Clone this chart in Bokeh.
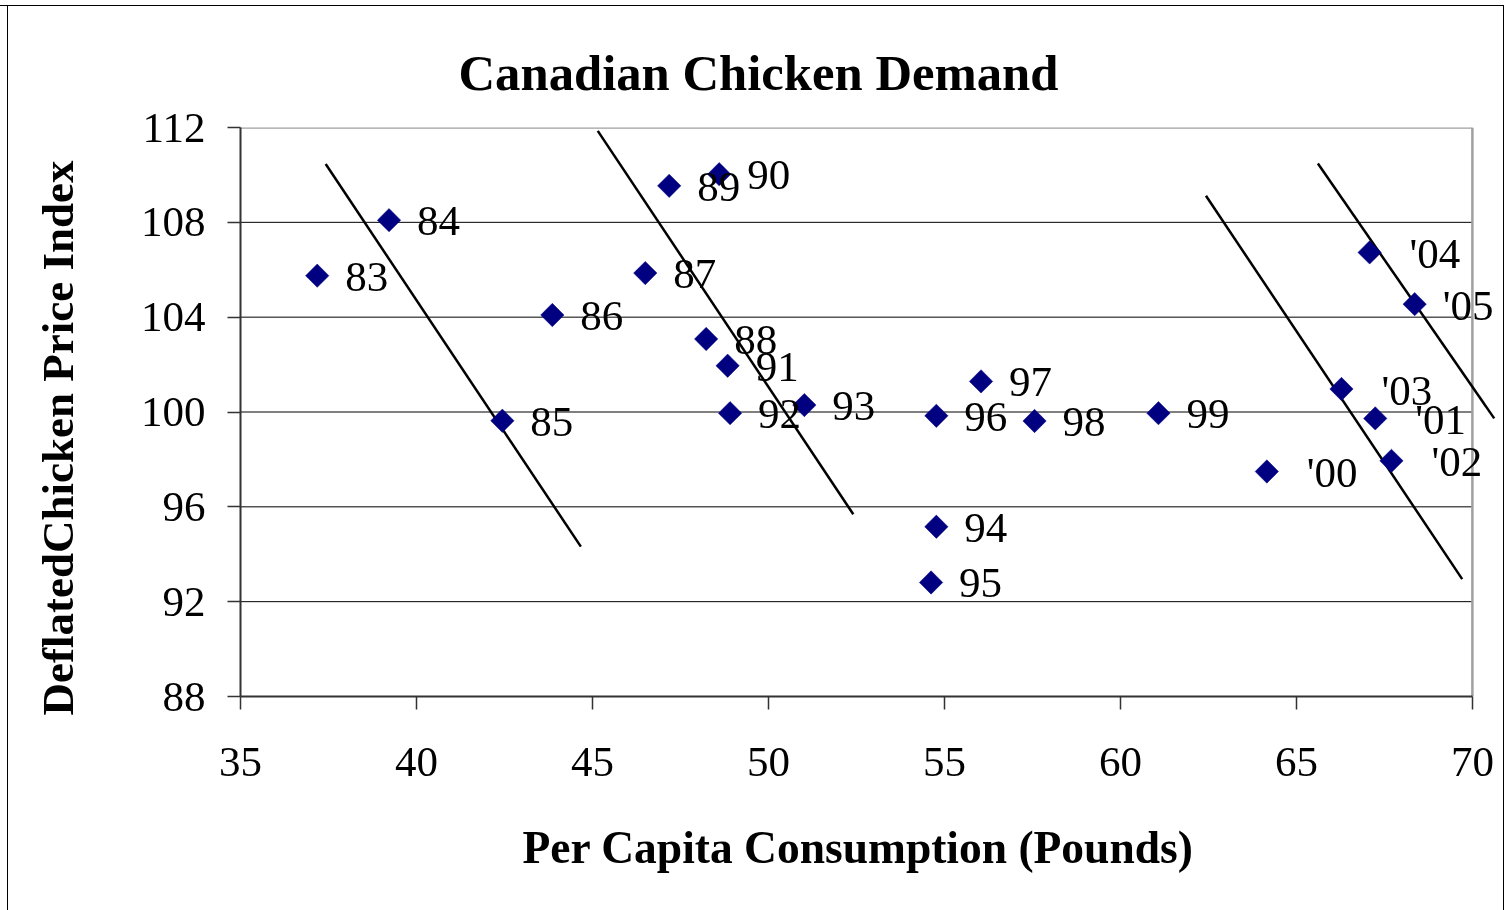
import math
from bokeh.plotting import figure
from bokeh.models import ColumnDataSource, FixedTicker, Range1d, Title
from bokeh.core.properties import value
from bokeh.embed import file_html
from bokeh.resources import INLINE

# ---- data ----
years = ["83", "84", "85", "86", "87", "88", "89", "90", "91", "92", "93",
         "94", "95", "96", "97", "98", "99", "'00", "'01", "'02", "'03", "'04", "'05"]
consumption = [37.18, 39.22, 42.44, 43.86, 46.50, 48.23, 47.18, 48.60, 48.84, 48.91, 51.02,
               54.77, 54.62, 54.77, 56.04, 57.56, 61.08, 64.16, 67.24, 67.70, 66.28, 67.08, 68.36]
price = [105.75, 108.09, 99.63, 104.09, 105.86, 103.08, 109.54, 110.03, 101.95, 99.95, 100.29,
         95.16, 92.81, 99.84, 101.29, 99.62, 99.95, 97.49, 99.73, 97.94, 100.97, 106.73, 104.55]

# demand curves (start / end points)
demand_x0 = [37.42, 45.15, 62.43, 65.61]
demand_y0 = [110.46, 111.86, 109.12, 110.48]
demand_x1 = [44.67, 52.41, 69.71, 70.62]
demand_y1 = [94.32, 95.69, 92.95, 99.73]

x_ticks = [35, 40, 45, 50, 55, 60, 65, 70]
y_ticks = [88, 92, 96, 100, 104, 108, 112]

title_text = "Canadian Chicken Demand"
x_title = "Per Capita Consumption (Pounds)"
y_title = "DeflatedChicken Price Index"

FONT = "Liberation Serif"

x_min, x_max = x_ticks[0], x_ticks[-1]
y_min, y_max = y_ticks[0], y_ticks[-1]

# canvas placed at page (-40, 5); frame at page x 240..1498, y 127..696
p = figure(width=1544, height=951, output_backend="svg", toolbar_location=None,
           x_range=Range1d(x_min, 70.77), y_range=Range1d(y_min, y_max),
           min_border_left=280, min_border_right=5, min_border_top=122, min_border_bottom=260)
p.styles = {"position": "fixed", "left": "-40px", "top": "5px",
            "outline": "1px solid black", "outline-offset": "-1px",
            "background-image": "linear-gradient(black, black)",
            "background-size": "1px 100%",
            "background-position": "47px 0px",
            "background-repeat": "no-repeat"}
p.outline_line_color = None
p.background_fill_color = "white"
p.border_fill_color = None
p.xgrid.grid_line_color = None
p.ygrid.grid_line_color = None

# horizontal gridlines (inside the 35..70 area only)
inner = y_ticks[1:-1]
p.segment(x0=[x_min] * len(inner), x1=[x_max] * len(inner), y0=inner, y1=inner,
          line_color="black", line_width=1)
# grey top/right frame border
p.segment(x0=[x_min, x_max], x1=[x_max, x_max], y0=[y_max, y_min], y1=[y_max, y_max],
          line_color="#a0a0a0", line_width=2.5)

# demand lines
p.segment(x0=demand_x0, y0=demand_y0, x1=demand_x1, y1=demand_y1,
          line_color="black", line_width=2.5)

# label gap: apostrophe labels sit a bit further out, unless they would leave the chart
offsets = [40 if (t.startswith("'") and x < 68) else 28 for t, x in zip(years, consumption)]
src = ColumnDataSource(dict(x=consumption, y=price, t=years, off=offsets))
p.scatter("x", "y", source=src, marker="square", size=16.5, angle=math.pi / 4,
          fill_color="#000080", line_color="#000080", line_width=0.5)
p.text("x", "y", text="t", source=src, x_offset="off", y_offset=1,
       text_font=value(FONT), text_font_size="43px", text_color="black",
       text_align="left", text_baseline="middle")

# axes
for ax in (p.xaxis[0], p.yaxis[0]):
    ax.major_label_text_font = FONT
    ax.major_label_text_font_size = "43px"
    ax.major_label_text_color = "black"
    ax.axis_line_color = "#333333"
    ax.axis_line_width = 2
    ax.major_tick_line_color = "#333333"
    ax.major_tick_line_width = 1.5
    ax.major_tick_out = 13
    ax.major_tick_in = 0
    ax.minor_tick_line_color = None

p.xaxis.ticker = FixedTicker(ticks=x_ticks)
p.yaxis.ticker = FixedTicker(ticks=y_ticks)
p.xaxis.bounds = (x_min, x_max)
p.xaxis.major_label_standoff = 38
p.yaxis.major_label_standoff = 22

# titles
p.add_layout(Title(text=title_text, align="left", offset=218, standoff=54,
                   text_font=FONT, text_font_size="50.7px", text_font_style="bold",
                   text_color="black"), "above")
p.add_layout(Title(text=x_title, align="left", offset=282, standoff=82,
                   text_font=FONT, text_font_size="45.5px", text_font_style="bold",
                   text_color="black"), "below")
p.add_layout(Title(text=y_title, align="left", offset=-19, standoff=109,
                   text_font=FONT, text_font_size="45px", text_font_style="bold",
                   text_color="black"), "left")

open("out.html", "w").write(file_html(p, INLINE))
